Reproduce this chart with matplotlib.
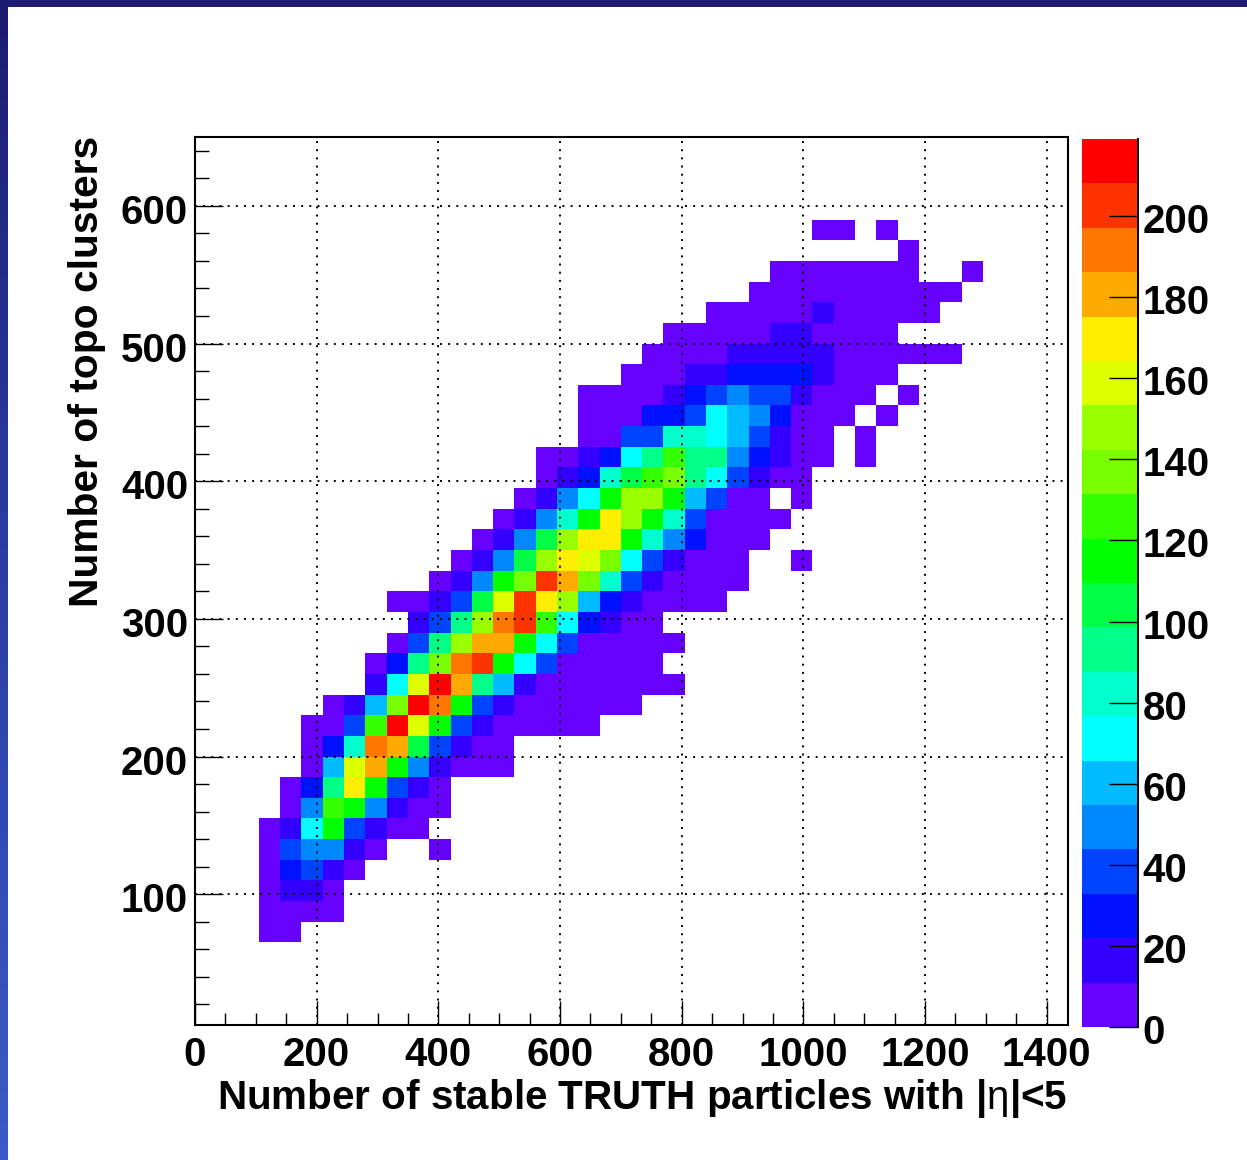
import numpy as np
import matplotlib
matplotlib.use('Agg')
import matplotlib.pyplot as plt
from matplotlib.colors import ListedColormap, BoundaryNorm
from matplotlib.transforms import ScaledTranslation

W, H = 1247, 1160

# bin layout of the 2D histogram
x_edges = np.arange(0, 1436, 35)
y_edges = np.arange(5, 651, 15)

# first filled column for each row, rows start at row 4 from the bottom
first_row = 4
row_start = [3, 3, 3, 3, 3, 3, 4, 4, 5, 5, 5, 6, 8, 8, 9, 10, 9, 11, 12, 13, 14,
             15, 16, 16, 18, 18, 18, 20, 21, 22, 24, 26, 27, 33, 29]
row_counts = [
    [5, 5],
    [5, 5, 5, 5],
    [5, 16, 16, 5],
    [5, 27, 38, 16, 5],
    [5, 38, 49, 49, 16, 5, 0, 0, 5],
    [5, 16, 71, 115, 38, 16, 5, 5],
    [5, 49, 126, 115, 49, 16, 5, 5],
    [5, 27, 93, 170, 115, 38, 16, 5],
    [5, 60, 159, 181, 115, 49, 16, 5, 5, 5],
    [5, 27, 82, 192, 181, 104, 38, 16, 5, 5],
    [5, 5, 38, 126, 214, 159, 115, 38, 16, 5, 5, 5, 5, 5],
    [5, 16, 60, 137, 214, 192, 115, 38, 16, 5, 5, 5, 5, 5, 5],
    [16, 71, 159, 214, 181, 93, 60, 16, 5, 5, 5, 5, 5, 5, 5],
    [5, 27, 93, 137, 192, 203, 115, 71, 38, 5, 5, 5, 5, 5],
    [5, 38, 93, 148, 181, 181, 115, 71, 38, 5, 5, 5, 5, 5],
    [16, 38, 93, 148, 192, 203, 126, 71, 27, 16, 5, 5],
    [5, 5, 16, 38, 104, 159, 203, 170, 148, 60, 27, 16, 5, 5, 5, 5],
    [5, 16, 49, 115, 137, 203, 181, 137, 82, 38, 16, 5, 5, 5, 5],
    [5, 16, 49, 104, 148, 170, 159, 137, 71, 38, 16, 5, 5, 5, 0, 0, 5],
    [5, 16, 49, 104, 148, 170, 170, 115, 82, 49, 27, 5, 5, 5],
    [5, 16, 49, 82, 115, 170, 148, 115, 82, 38, 5, 5, 5, 5],
    [5, 16, 49, 71, 115, 148, 148, 115, 60, 38, 5, 5, 0, 5],
    [5, 16, 27, 82, 104, 126, 137, 93, 71, 38, 16, 5, 5],
    [5, 5, 16, 27, 71, 93, 126, 93, 93, 49, 27, 16, 5, 5, 0, 5],
    [5, 5, 38, 38, 82, 82, 71, 60, 38, 16, 5, 5, 0, 5],
    [5, 5, 5, 27, 27, 38, 71, 60, 49, 27, 5, 5, 5, 0, 5],
    [5, 5, 5, 5, 16, 27, 38, 49, 38, 38, 16, 5, 5, 5, 0, 5],
    [5, 5, 5, 16, 16, 27, 27, 27, 27, 16, 5, 5, 5],
    [5, 5, 5, 5, 16, 16, 16, 16, 16, 5, 5, 5, 5, 5, 5],
    [5, 5, 5, 5, 5, 16, 16, 5, 5, 5, 5],
    [5, 5, 5, 5, 5, 16, 5, 5, 5, 5, 5],
    [5, 5, 5, 5, 5, 5, 5, 5, 5, 5],
    [5, 5, 5, 5, 5, 5, 5, 0, 0, 5],
    [5],
    [5, 5, 0, 5],
]

palette = ['#6600ff', '#3300ff', '#0011ff', '#0044ff', '#0088ff', '#00bbff', '#00ffff',
           '#00ffcc', '#00ff88', '#00ff44', '#00ff00', '#33ff00', '#77ff00', '#99ff00',
           '#ddff00', '#ffee00', '#ffaa00', '#ff7700', '#ff3300', '#ff0000']
z_max = 219

x_ticks = [0, 200, 400, 600, 800, 1000, 1200, 1400]
y_ticks = [100, 200, 300, 400, 500, 600]
z_ticks = [0, 20, 40, 60, 80, 100, 120, 140, 160, 180, 200]

x_title = r'Number of stable TRUTH particles with |$\mathrm{\eta}$|<5'
y_title = 'Number of topo clusters'


def axes_px(fig, left, top, right, bottom):
    return fig.add_axes([left / W, 1 - bottom / H, (right - left) / W, (bottom - top) / H])


def shift_labels(fig, labels, dy_px):
    # move tick labels down by some pixels
    offset = ScaledTranslation(0, -dy_px / 100, fig.dpi_scale_trans)
    for lab in labels:
        lab.set_transform(lab.get_transform() + offset)


plt.rcParams['font.family'] = 'Liberation Sans'
plt.rcParams['font.weight'] = 'bold'
plt.rcParams['mathtext.fontset'] = 'custom'
plt.rcParams['mathtext.rm'] = 'Liberation Sans:regular'
plt.rcParams['mathtext.it'] = 'Liberation Sans:italic:regular'
plt.rcParams['mathtext.bf'] = 'Liberation Sans:bold'

fig = plt.figure(figsize=(W / 100, H / 100), dpi=100, facecolor='white')

# slide frame, dark bar on top and blue gradient on the left
side = axes_px(fig, 0, 0, 8, H)
side.imshow(np.linspace(0, 1, 256).reshape(-1, 1),
            cmap=matplotlib.colors.LinearSegmentedColormap.from_list('frame', ['#1c1c70', '#2a3fa5', '#3c5ac8']),
            aspect='auto')
side.axis('off')
top_bar = axes_px(fig, 0, 0, W, 7)
top_bar.set_facecolor('#1c1c70')
top_bar.set_xticks([])
top_bar.set_yticks([])
for s in top_bar.spines.values():
    s.set_visible(False)

# fill the histogram
counts = np.zeros((len(y_edges) - 1, len(x_edges) - 1))
for i in range(len(row_counts)):
    vals = row_counts[i]
    counts[first_row + i, row_start[i]:row_start[i] + len(vals)] = vals
counts = np.ma.masked_equal(counts, 0)

cmap = ListedColormap(palette)
bounds = np.linspace(0, z_max, len(palette) + 1)
norm = BoundaryNorm(bounds, cmap.N)

ax = axes_px(fig, 195, 137, 1068, 1025)
mesh = ax.pcolormesh(x_edges, y_edges, counts, cmap=cmap, norm=norm, linewidth=0, rasterized=True)
ax.set_xlim(0, 1435)
ax.set_ylim(5, 650)

ax.set_xticks(x_ticks)
ax.set_yticks(y_ticks)
ax.set_xticks(np.arange(50, 1435, 50), minor=True)
ax.set_yticks(np.arange(20, 650, 20), minor=True)
ax.tick_params(axis='x', which='major', direction='in', length=17, width=1, labelsize=29, pad=8)
ax.tick_params(axis='x', which='minor', direction='in', length=9, width=1)
ax.tick_params(axis='y', which='major', direction='in', length=20, width=1, labelsize=29, pad=5)
ax.tick_params(axis='y', which='minor', direction='in', length=10, width=1)
ax.set_axisbelow(False)
ax.grid(True, which='major', color='black', linestyle=(0, (1, 3.2)), linewidth=1.4)
for s in ax.spines.values():
    s.set_linewidth(1.5)
shift_labels(fig, ax.get_yticklabels(), 3)

fig.text(642.5 / W, 1 - 1098 / H, x_title, fontsize=29.1, ha='center', va='center')
fig.text(87 / W, 1 - 371 / H, y_title, fontsize=29.3, ha='center', va='center', rotation=90)

# colour scale
cax = axes_px(fig, 1082, 139, 1138, 1027)
cb = fig.colorbar(mesh, cax=cax, boundaries=bounds, spacing='proportional', ticks=z_ticks)
cb.outline.set_visible(False)
cb.ax.minorticks_off()
cb.ax.tick_params(which='major', direction='in', length=21, width=1, labelsize=29, pad=3.5, right=True, color='black')
cb.ax.axvline(1, color='black', linewidth=1.4, clip_on=False)
cb.ax.set_yticklabels([str(t) for t in z_ticks])
shift_labels(fig, cb.ax.get_yticklabels(), 2)

fig.savefig('out.png', dpi=100)
